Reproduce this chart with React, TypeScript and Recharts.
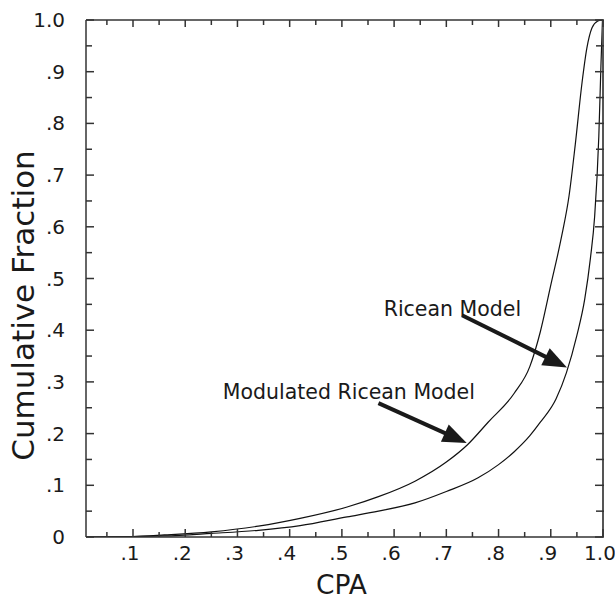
import React from 'react';
import { LineChart, Line, XAxis, YAxis, ReferenceLine, ReferenceDot, Label } from 'recharts';

// Modulated Ricean Model (upper / left curve)
const modulatedCpa = [0.01, 0.1, 0.16, 0.25, 0.34, 0.42, 0.51, 0.57, 0.64, 0.70, 0.74, 0.78, 0.83, 0.86, 0.88, 0.90, 0.92, 0.935, 0.947, 0.96, 0.969, 0.979, 0.99, 0.998];
const modulatedFrac = [0, 0.001, 0.004, 0.010, 0.021, 0.036, 0.058, 0.078, 0.108, 0.145, 0.178, 0.222, 0.278, 0.33, 0.397, 0.487, 0.578, 0.66, 0.76, 0.88, 0.945, 0.985, 0.998, 1.0];

// Ricean Model (lower / right curve)
const riceanCpa = [0.01, 0.1, 0.16, 0.25, 0.34, 0.42, 0.51, 0.57, 0.64, 0.70, 0.76, 0.80, 0.83, 0.86, 0.88, 0.91, 0.93, 0.95, 0.965, 0.976, 0.984, 0.992, 0.996, 0.999];
const riceanFrac = [0, 0.001, 0.002, 0.007, 0.013, 0.022, 0.039, 0.050, 0.066, 0.088, 0.114, 0.140, 0.165, 0.196, 0.222, 0.267, 0.318, 0.39, 0.46, 0.54, 0.62, 0.775, 0.91, 1.0];

const xTicks = [0.05, 0.1, 0.15, 0.2, 0.25, 0.3, 0.35, 0.4, 0.45, 0.5, 0.55, 0.6, 0.65, 0.7, 0.75, 0.8, 0.85, 0.9, 0.95, 1.0];
const yTicks = [0, 0.05, 0.1, 0.15, 0.2, 0.25, 0.3, 0.35, 0.4, 0.45, 0.5, 0.55, 0.6, 0.65, 0.7, 0.75, 0.8, 0.85, 0.9, 0.95, 1.0];

const xDomain = [0.01, 1.0];
const yDomain = [0, 1.0];

// annotation labels: text, anchor (x, y in data units)
const labelTexts = ['Ricean Model', 'Modulated Ricean Model'];
const labelX = [0.58, 0.272];
const labelY = [0.427, 0.267];
// arrows: start and tip in data units
const arrowFromX = [0.73, 0.57];
const arrowFromY = [0.429, 0.259];
const arrowToX = [0.931, 0.739];
const arrowToY = [0.328, 0.182];

const modulatedData = modulatedCpa.map((x, i) => ({ x, y: modulatedFrac[i] }));
const riceanData = riceanCpa.map((x, i) => ({ x, y: riceanFrac[i] }));

const FONT = '"DejaVu Sans", Verdana, sans-serif';
const AXIS = '#333';
const INK = '#1a1a1a';

const isMajor = (v: number) => Math.abs(v * 10 - Math.round(v * 10)) < 1e-6;
const fmt = (v: number) => (v >= 0.999 ? '1.0' : v <= 0.0001 ? '0' : '.' + Math.round(v * 10));

const BottomTick = (props: any) => {
  const { x, y, payload } = props;
  const v = payload.value;
  const major = isMajor(v);
  return (
    <g>
      <line x1={x} y1={y} x2={x} y2={y - (major ? 8 : 5)} stroke={AXIS} strokeWidth={1.5} />
      {major && (
        <text x={x - 3} y={y + 23} textAnchor="middle" fontFamily={FONT} fontSize={20} fill={INK}>
          {fmt(v)}
        </text>
      )}
    </g>
  );
};

const TopTick = (props: any) => {
  const { x, y, payload } = props;
  const major = isMajor(payload.value);
  return <line x1={x} y1={y} x2={x} y2={y + (major ? 7 : 5)} stroke={AXIS} strokeWidth={1.5} />;
};

const LeftTick = (props: any) => {
  const { x, y, payload } = props;
  const v = payload.value;
  const major = isMajor(v);
  return (
    <g>
      <line x1={x} y1={y} x2={x + (major ? 8 : 6)} y2={y} stroke={AXIS} strokeWidth={1.5} />
      {major && (
        <text x={x - 21} y={y} textAnchor="end" dominantBaseline="central" fontFamily={FONT} fontSize={20} fill={INK}>
          {fmt(v)}
        </text>
      )}
    </g>
  );
};

const RightTick = (props: any) => {
  const { x, y, payload } = props;
  const major = isMajor(payload.value);
  return <line x1={x + 1} y1={y} x2={x - (major ? 8 : 7)} y2={y} stroke={AXIS} strokeWidth={1.5} />;
};

const ArrowShape = (props: any) => {
  const { x1, y1, x2, y2 } = props;
  if ([x1, y1, x2, y2].some((v) => typeof v !== 'number' || isNaN(v))) return null;
  const dx = x2 - x1;
  const dy = y2 - y1;
  const len = Math.sqrt(dx * dx + dy * dy);
  const ux = dx / len;
  const uy = dy / len;
  const headLen = 24;
  const headHalf = 9.5;
  const bx = x2 - ux * headLen;
  const by = y2 - uy * headLen;
  const pts = `${x2},${y2} ${bx - uy * headHalf},${by + ux * headHalf} ${bx + uy * headHalf},${by - ux * headHalf}`;
  return (
    <g>
      <line x1={x1} y1={y1} x2={bx + ux * 2} y2={by + uy * 2} stroke={INK} strokeWidth={4} />
      <polygon points={pts} fill={INK} />
    </g>
  );
};

const TextShape = (text: string) => (props: any) => {
  const { cx, cy } = props;
  return (
    <text x={cx} y={cy} fontFamily={FONT} fontSize={20.5} fill={INK}>
      {text}
    </text>
  );
};

export default function App() {
  return (
    <div style={{ position: 'absolute', left: 8, top: 8, width: 607, height: 591 }}>
      <LineChart
        width={607}
        height={591}
        margin={{ top: 11, right: 11, bottom: 0, left: 0 }}
        style={{ background: '#fff' }}
      >
        <XAxis
          xAxisId="b"
          dataKey="x"
          type="number"
          domain={xDomain}
          allowDataOverflow
          ticks={xTicks}
          interval={0}
          height={62}
          tickSize={0}
          tickMargin={0}
          tickLine={false}
          tick={BottomTick}
          axisLine={{ stroke: AXIS, strokeWidth: 1.5 }}
        >
          <Label
            content={(p: any) => {
              const vb = p.viewBox || {};
              return (
                <text x={vb.x + vb.width / 2 - 3} y={vb.y + 57} textAnchor="middle" fontFamily={FONT} fontSize={26.5} fill={INK}>
                  CPA
                </text>
              );
            }}
          />
        </XAxis>
        <XAxis
          xAxisId="t"
          dataKey="x"
          orientation="top"
          type="number"
          domain={xDomain}
          allowDataOverflow
          ticks={xTicks}
          interval={0}
          height={1}
          tickSize={0}
          tickMargin={0}
          tickLine={false}
          tick={TopTick}
          axisLine={{ stroke: AXIS, strokeWidth: 1.5 }}
        />
        <YAxis
          yAxisId="l"
          type="number"
          domain={yDomain}
          allowDataOverflow
          ticks={yTicks}
          interval={0}
          width={78}
          tickSize={0}
          tickMargin={0}
          tickLine={false}
          tick={LeftTick}
          axisLine={{ stroke: AXIS, strokeWidth: 1.5 }}
        >
          <Label
            content={(p: any) => {
              const vb = p.viewBox || {};
              const cx = 26;
              const cy = vb.y + vb.height / 2 + 27;
              return (
                <text
                  x={cx}
                  y={cy}
                  transform={`rotate(-90, ${cx}, ${cy})`}
                  textAnchor="middle"
                  fontFamily={FONT}
                  fontSize={31}
                  fill={INK}
                >
                  Cumulative Fraction
                </text>
              );
            }}
          />
        </YAxis>
        <YAxis
          yAxisId="r"
          orientation="right"
          type="number"
          domain={yDomain}
          allowDataOverflow
          ticks={yTicks}
          interval={0}
          width={1}
          tickSize={0}
          tickMargin={0}
          tickLine={false}
          tick={RightTick}
          axisLine={{ stroke: '#555', strokeWidth: 2 }}
        />
        {/* invisible series tying the top and right frame axes to data */}
        <Line
          xAxisId="t"
          yAxisId="r"
          data={riceanData}
          dataKey="y"
          type="linear"
          dot={false}
          stroke="none"
          strokeWidth={0}
          isAnimationActive={false}
        />
        <Line
          xAxisId="b"
          yAxisId="l"
          data={modulatedData}
          dataKey="y"
          type="monotone"
          dot={false}
          stroke="#111"
          strokeWidth={1.2}
          isAnimationActive={false}
        />
        <Line
          xAxisId="b"
          yAxisId="l"
          data={riceanData}
          dataKey="y"
          type="monotone"
          dot={false}
          stroke="#111"
          strokeWidth={1.2}
          isAnimationActive={false}
        />
        {labelTexts.map((t, i) => (
          <ReferenceLine
            key={'a' + i}
            xAxisId="b"
            yAxisId="l"
            segment={[
              { x: arrowFromX[i], y: arrowFromY[i] },
              { x: arrowToX[i], y: arrowToY[i] },
            ]}
            shape={ArrowShape}
          />
        ))}
        {labelTexts.map((t, i) => (
          <ReferenceDot
            key={'t' + i}
            xAxisId="b"
            yAxisId="l"
            x={labelX[i]}
            y={labelY[i]}
            r={0}
            shape={TextShape(t)}
          />
        ))}
      </LineChart>
    </div>
  );
}
